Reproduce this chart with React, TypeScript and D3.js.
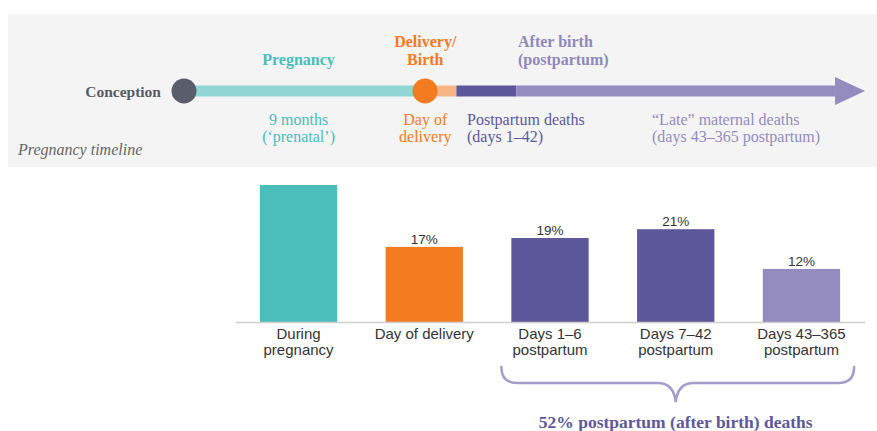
import React from 'react';
import * as d3 from 'd3';

// Bar chart data
const categories = ['During pregnancy', 'Day of delivery', 'Days 1–6 postpartum', 'Days 7–42 postpartum', 'Days 43–365 postpartum'];
const categoryLines = [
  ['During', 'pregnancy'],
  ['Day of delivery'],
  ['Days 1–6', 'postpartum'],
  ['Days 7–42', 'postpartum'],
  ['Days 43–365', 'postpartum'],
];
const shares = [31, 17, 19, 21, 12];
const shareLabels = ['', '17%', '19%', '21%', '12%'];
const barColors = ['#4bbdba', '#f47b20', '#5d579c', '#5d579c', '#948bbe'];

// Timeline phases in schematic units (0 = conception, 100 = arrow tip)
const phaseNames = ['pregnancy', 'delivery', 'postpartum', 'late'];
const phaseStart = [0, 35.4, 40, 48.8];
const phaseEnd = [35.4, 40, 48.8, 100];
const phaseColors = ['#8fd6d4', '#f9b585', '#5d579c', '#948bbe'];
const arrowHeadStart = 95.6;

const W = 877;
const H = 431;
const serif = '"Liberation Serif", "Times New Roman", serif';
const sans = '"Liberation Sans", Arial, sans-serif';

export default function App() {
  const x = d3.scaleBand<string>()
    .domain(categories)
    .range([236, 864])
    .paddingInner(0.385)
    .paddingOuter(0.19);
  const bw = x.bandwidth();
  const cx = (i: number) => (x(categories[i]) as number) + bw / 2;

  const y = d3.scaleLinear().domain([0, 31]).range([322, 185]);

  const t = d3.scaleLinear().domain([0, 100]).range([184, 865]);
  const ty = 91;
  const thick = 11;

  // brace under postpartum bars
  const bx0 = (x(categories[2]) as number) - 10;
  const bx1 = (x(categories[4]) as number) + bw + 14;
  const bmid = (cx(2) + cx(4)) / 2;
  const bTop = 367, bLine = 383, bTip = 402;
  const brace = `M${bx0},${bTop} Q${bx0},${bLine} ${bx0 + 16},${bLine} L${bmid - 18},${bLine} Q${bmid - 2},${bLine} ${bmid},${bTip} Q${bmid + 2},${bLine} ${bmid + 18},${bLine} L${bx1 - 16},${bLine} Q${bx1},${bLine} ${bx1},${bTop}`;

  return (
    <svg width={W} height={H} style={{ position: 'fixed', left: 0, top: 0, background: '#fff' }}>
      {/* Timeline panel */}
      <rect x={8} y={14} width={W - 8} height={153} fill="#f4f4f4" />
      <text x={18} y={155} fontFamily={serif} fontStyle="italic" fontSize={16} fill="#666">Pregnancy timeline</text>

      {/* timeline segments */}
      {phaseNames.map((p, i) => {
        const x0 = t(phaseStart[i]);
        const x1 = p === 'late' ? t(arrowHeadStart) : t(phaseEnd[i]);
        return <rect key={p} x={x0} y={ty - thick / 2} width={x1 - x0} height={thick} fill={phaseColors[i]} />;
      })}
      <polygon
        points={`${t(arrowHeadStart)},${ty - 14} ${t(100)},${ty} ${t(arrowHeadStart)},${ty + 14}`}
        fill={phaseColors[3]}
      />
      <circle cx={t(0)} cy={ty} r={12.5} fill="#5a5d6b" />
      <circle cx={t(phaseStart[1])} cy={ty} r={12.5} fill="#f47b20" />

      <text x={161} y={97} textAnchor="end" fontFamily={serif} fontWeight="bold" fontSize={15.5} fill="#555a63">Conception</text>

      <g fontFamily={serif} fontSize={16}>
        <text x={cx(0)} y={65} textAnchor="middle" fontWeight="bold" fill="#4bbdba">Pregnancy</text>
        <text x={cx(1) + 1} y={47} textAnchor="middle" fontWeight="bold" fill="#f47b20">Delivery/</text>
        <text x={cx(1) + 1} y={65} textAnchor="middle" fontWeight="bold" fill="#f47b20">Birth</text>
        <text x={518} y={47} fontWeight="bold" fill="#8f88bd">After birth</text>
        <text x={518} y={65} fontWeight="bold" fill="#8f88bd">(postpartum)</text>

        <text x={cx(0)} y={125} textAnchor="middle" fill="#4bbdba">9 months</text>
        <text x={cx(0)} y={142} textAnchor="middle" fill="#4bbdba">(‘prenatal’)</text>
        <text x={cx(1) + 1} y={125} textAnchor="middle" fill="#f47b20">Day of</text>
        <text x={cx(1) + 1} y={142} textAnchor="middle" fill="#f47b20">delivery</text>
        <text x={467} y={125} fill="#5d579c">Postpartum deaths</text>
        <text x={467} y={142} fill="#5d579c">(days 1–42)</text>
        <text x={652} y={125} fill="#948bbe">“Late” maternal deaths</text>
        <text x={652} y={142} fill="#948bbe">(days 43–365 postpartum)</text>
      </g>

      {/* Bars */}
      {categories.map((c, i) => (
        <rect key={c} x={x(c)} y={y(shares[i])} width={bw} height={y(0) - y(shares[i])} fill={barColors[i]} />
      ))}
      <line x1={236} x2={865} y1={y(0) + 0.5} y2={y(0) + 0.5} stroke="#cfcfcf" strokeWidth={1.5} />

      {categories.map((c, i) => (
        <text key={c + 'v'} x={cx(i)} y={y(shares[i]) - 3} textAnchor="middle" fontFamily={sans} fontSize={13.5} fill="#333">
          {shareLabels[i]}
        </text>
      ))}
      {categoryLines.map((lines, i) => (
        <text key={'c' + i} x={cx(i)} textAnchor="middle" fontFamily={sans} fontSize={15} fill="#333">
          {lines.map((l, j) => (
            <tspan key={j} x={cx(i)} y={339 + j * 16}>{l}</tspan>
          ))}
        </text>
      ))}

      {/* Brace */}
      <path d={brace} fill="none" stroke="#a29dca" strokeWidth={2.5} strokeLinecap="round" />
      <text x={bmid} y={428} textAnchor="middle" fontFamily={serif} fontWeight="bold" fontSize={17.5} fill="#5d579c">
        52% postpartum (after birth) deaths
      </text>
    </svg>
  );
}
